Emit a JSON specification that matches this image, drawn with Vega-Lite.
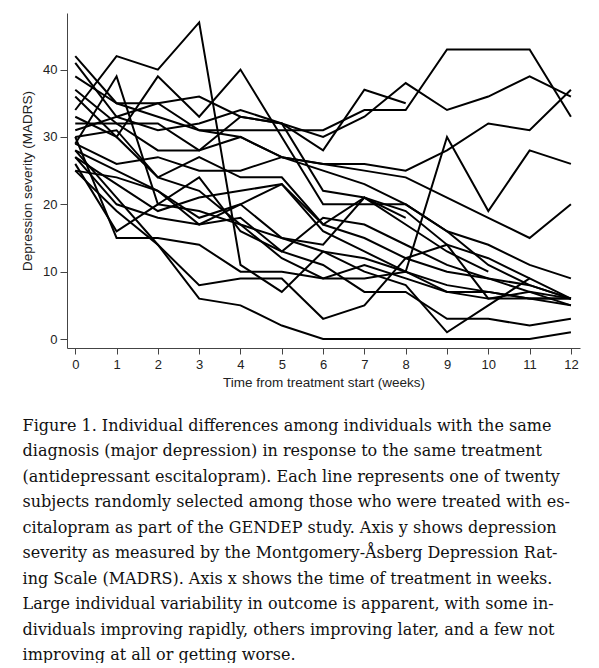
{
  "$schema": "https://vega.github.io/schema/vega-lite/v6.json",
  "width": 513,
  "height": 335,
  "padding": {"left": 20, "top": 13, "right": 10, "bottom": 0},
  "background": "white",
  "config": {
    "view": {"stroke": null},
    "axis": {
      "grid": false,
      "domainColor": "#444",
      "domainWidth": 1,
      "tickColor": "#444",
      "tickWidth": 1,
      "labelFont": "Liberation Sans",
      "labelFontSize": 13,
      "labelColor": "#222",
      "titleFont": "Liberation Sans",
      "titleFontSize": 13.5,
      "titleFontWeight": "normal",
      "titleColor": "#222"
    }
  },
  "title": {
    "text": [
      "Figure 1. Individual differences among individuals with the same",
      "diagnosis (major depression) in response to the same treatment",
      "(antidepressant escitalopram). Each line represents one of twenty",
      "subjects randomly selected among those who were treated with es-",
      "citalopram as part of the GENDEP study. Axis y shows depression",
      "severity as measured by the Montgomery-Åsberg Depression Rat-",
      "ing Scale (MADRS). Axis x shows the time of treatment in weeks.",
      "Large individual variability in outcome is apparent, with some in-",
      "dividuals improving rapidly, others improving later, and a few not",
      "improving at all or getting worse."
    ],
    "orient": "bottom",
    "anchor": "start",
    "frame": "bounds",
    "align": "left",
    "font": "DejaVu Serif",
    "fontSize": 16,
    "fontWeight": "normal",
    "color": "#111",
    "lineHeight": 25.5,
    "offset": 29,
    "dx": 2
  },
  "data": {
    "values": [
      {"id":1,"week":0,"madrs":28},{"id":1,"week":1,"madrs":21},{"id":1,"week":2,"madrs":14},{"id":1,"week":3,"madrs":6},{"id":1,"week":4,"madrs":5},{"id":1,"week":5,"madrs":2},{"id":1,"week":6,"madrs":0},{"id":1,"week":7,"madrs":0},{"id":1,"week":8,"madrs":0},{"id":1,"week":9,"madrs":0},{"id":1,"week":10,"madrs":0},{"id":1,"week":11,"madrs":0},{"id":1,"week":12,"madrs":1},
      {"id":2,"week":0,"madrs":34},{"id":2,"week":1,"madrs":42},{"id":2,"week":2,"madrs":40},{"id":2,"week":3,"madrs":47},{"id":2,"week":4,"madrs":11},{"id":2,"week":5,"madrs":7},{"id":2,"week":6,"madrs":13},{"id":2,"week":7,"madrs":12},{"id":2,"week":8,"madrs":10},{"id":2,"week":9,"madrs":7},{"id":2,"week":10,"madrs":6},{"id":2,"week":11,"madrs":6},{"id":2,"week":12,"madrs":6},
      {"id":3,"week":0,"madrs":36},{"id":3,"week":1,"madrs":30},{"id":3,"week":2,"madrs":39},{"id":3,"week":3,"madrs":33},{"id":3,"week":4,"madrs":40},{"id":3,"week":5,"madrs":30},{"id":3,"week":6,"madrs":20},{"id":3,"week":7,"madrs":20},{"id":3,"week":8,"madrs":20},{"id":3,"week":9,"madrs":16},{"id":3,"week":10,"madrs":11},{"id":3,"week":11,"madrs":8},{"id":3,"week":12,"madrs":6},
      {"id":4,"week":0,"madrs":39},{"id":4,"week":1,"madrs":35},{"id":4,"week":2,"madrs":35},{"id":4,"week":3,"madrs":31},{"id":4,"week":4,"madrs":31},{"id":4,"week":5,"madrs":31},{"id":4,"week":6,"madrs":31},{"id":4,"week":7,"madrs":34},{"id":4,"week":8,"madrs":34},{"id":4,"week":9,"madrs":43},{"id":4,"week":10,"madrs":43},{"id":4,"week":11,"madrs":43},{"id":4,"week":12,"madrs":33},
      {"id":5,"week":0,"madrs":41},{"id":5,"week":1,"madrs":33},{"id":5,"week":2,"madrs":35},{"id":5,"week":3,"madrs":36},{"id":5,"week":4,"madrs":33},{"id":5,"week":5,"madrs":32},{"id":5,"week":6,"madrs":30},{"id":5,"week":7,"madrs":33},{"id":5,"week":8,"madrs":38},{"id":5,"week":9,"madrs":34},{"id":5,"week":10,"madrs":36},{"id":5,"week":11,"madrs":39},{"id":5,"week":12,"madrs":36},
      {"id":6,"week":0,"madrs":31},{"id":6,"week":1,"madrs":33},{"id":6,"week":2,"madrs":31},{"id":6,"week":3,"madrs":32},{"id":6,"week":4,"madrs":34},{"id":6,"week":5,"madrs":32},{"id":6,"week":6,"madrs":28},{"id":6,"week":7,"madrs":37},{"id":6,"week":8,"madrs":35},
      {"id":7,"week":0,"madrs":29},{"id":7,"week":1,"madrs":26},{"id":7,"week":2,"madrs":27},{"id":7,"week":3,"madrs":25},{"id":7,"week":4,"madrs":25},{"id":7,"week":5,"madrs":27},{"id":7,"week":6,"madrs":26},{"id":7,"week":7,"madrs":26},{"id":7,"week":8,"madrs":25},{"id":7,"week":9,"madrs":28},{"id":7,"week":10,"madrs":32},{"id":7,"week":11,"madrs":31},{"id":7,"week":12,"madrs":37},
      {"id":8,"week":0,"madrs":32},{"id":8,"week":1,"madrs":32},{"id":8,"week":2,"madrs":32},{"id":8,"week":3,"madrs":28},{"id":8,"week":4,"madrs":30},{"id":8,"week":5,"madrs":27},{"id":8,"week":6,"madrs":26},{"id":8,"week":7,"madrs":25},{"id":8,"week":8,"madrs":24},{"id":8,"week":9,"madrs":21},{"id":8,"week":10,"madrs":18},{"id":8,"week":11,"madrs":15},{"id":8,"week":12,"madrs":20},
      {"id":9,"week":0,"madrs":27},{"id":9,"week":1,"madrs":23},{"id":9,"week":2,"madrs":19},{"id":9,"week":3,"madrs":21},{"id":9,"week":4,"madrs":22},{"id":9,"week":5,"madrs":23},{"id":9,"week":6,"madrs":16},{"id":9,"week":7,"madrs":13},{"id":9,"week":8,"madrs":10},{"id":9,"week":9,"madrs":30},{"id":9,"week":10,"madrs":19},{"id":9,"week":11,"madrs":28},{"id":9,"week":12,"madrs":26},
      {"id":10,"week":0,"madrs":42},{"id":10,"week":1,"madrs":35},{"id":10,"week":2,"madrs":33},{"id":10,"week":3,"madrs":31},{"id":10,"week":4,"madrs":30},{"id":10,"week":5,"madrs":27},{"id":10,"week":6,"madrs":25},{"id":10,"week":7,"madrs":23},{"id":10,"week":8,"madrs":20},{"id":10,"week":9,"madrs":16},{"id":10,"week":10,"madrs":14},{"id":10,"week":11,"madrs":11},{"id":10,"week":12,"madrs":9},
      {"id":11,"week":0,"madrs":30},{"id":11,"week":1,"madrs":15},{"id":11,"week":2,"madrs":15},{"id":11,"week":3,"madrs":14},{"id":11,"week":4,"madrs":10},{"id":11,"week":5,"madrs":10},{"id":11,"week":6,"madrs":9},{"id":11,"week":7,"madrs":9},{"id":11,"week":8,"madrs":10},{"id":11,"week":9,"madrs":8},{"id":11,"week":10,"madrs":7},{"id":11,"week":11,"madrs":6},{"id":11,"week":12,"madrs":5},
      {"id":12,"week":0,"madrs":26},{"id":12,"week":1,"madrs":16},{"id":12,"week":2,"madrs":20},{"id":12,"week":3,"madrs":19},{"id":12,"week":4,"madrs":17},{"id":12,"week":5,"madrs":12},{"id":12,"week":6,"madrs":9},{"id":12,"week":7,"madrs":11},{"id":12,"week":8,"madrs":9},{"id":12,"week":9,"madrs":7},{"id":12,"week":10,"madrs":7},{"id":12,"week":11,"madrs":6},{"id":12,"week":12,"madrs":6},
      {"id":13,"week":0,"madrs":27},{"id":13,"week":1,"madrs":20},{"id":13,"week":2,"madrs":18},{"id":13,"week":3,"madrs":17},{"id":13,"week":4,"madrs":18},{"id":13,"week":5,"madrs":13},{"id":13,"week":6,"madrs":11},{"id":13,"week":7,"madrs":7},{"id":13,"week":8,"madrs":7},{"id":13,"week":9,"madrs":3},{"id":13,"week":10,"madrs":3},{"id":13,"week":11,"madrs":2},{"id":13,"week":12,"madrs":3},
      {"id":14,"week":0,"madrs":25},{"id":14,"week":1,"madrs":19},{"id":14,"week":2,"madrs":14},{"id":14,"week":3,"madrs":8},{"id":14,"week":4,"madrs":9},{"id":14,"week":5,"madrs":9},{"id":14,"week":6,"madrs":3},{"id":14,"week":7,"madrs":5},{"id":14,"week":8,"madrs":12},{"id":14,"week":9,"madrs":14},{"id":14,"week":10,"madrs":6},{"id":14,"week":11,"madrs":7},{"id":14,"week":12,"madrs":6},
      {"id":15,"week":0,"madrs":33},{"id":15,"week":1,"madrs":30},{"id":15,"week":2,"madrs":24},{"id":15,"week":3,"madrs":22},{"id":15,"week":4,"madrs":17},{"id":15,"week":5,"madrs":15},{"id":15,"week":6,"madrs":13},{"id":15,"week":7,"madrs":10},{"id":15,"week":8,"madrs":8},{"id":15,"week":9,"madrs":1},{"id":15,"week":10,"madrs":5},{"id":15,"week":11,"madrs":9},{"id":15,"week":12,"madrs":6},
      {"id":16,"week":0,"madrs":28},{"id":16,"week":1,"madrs":25},{"id":16,"week":2,"madrs":22},{"id":16,"week":3,"madrs":18},{"id":16,"week":4,"madrs":20},{"id":16,"week":5,"madrs":23},{"id":16,"week":6,"madrs":17},{"id":16,"week":7,"madrs":15},{"id":16,"week":8,"madrs":12},{"id":16,"week":9,"madrs":10},{"id":16,"week":10,"madrs":9},{"id":16,"week":11,"madrs":7},{"id":16,"week":12,"madrs":5},
      {"id":17,"week":0,"madrs":29},{"id":17,"week":1,"madrs":39},{"id":17,"week":2,"madrs":20},{"id":17,"week":3,"madrs":24},{"id":17,"week":4,"madrs":16},{"id":17,"week":5,"madrs":13},{"id":17,"week":6,"madrs":18},{"id":17,"week":7,"madrs":17},{"id":17,"week":8,"madrs":14},{"id":17,"week":9,"madrs":11},{"id":17,"week":10,"madrs":9},{"id":17,"week":11,"madrs":8},{"id":17,"week":12,"madrs":6},
      {"id":18,"week":0,"madrs":25},{"id":18,"week":1,"madrs":24},{"id":18,"week":2,"madrs":22},{"id":18,"week":3,"madrs":17},{"id":18,"week":4,"madrs":20},{"id":18,"week":5,"madrs":15},{"id":18,"week":6,"madrs":14},{"id":18,"week":7,"madrs":21},{"id":18,"week":8,"madrs":17},{"id":18,"week":9,"madrs":13},{"id":18,"week":10,"madrs":10},
      {"id":19,"week":0,"madrs":30},{"id":19,"week":1,"madrs":31},{"id":19,"week":2,"madrs":24},{"id":19,"week":3,"madrs":27},{"id":19,"week":4,"madrs":24},{"id":19,"week":5,"madrs":24},{"id":19,"week":6,"madrs":17},{"id":19,"week":7,"madrs":21},{"id":19,"week":8,"madrs":19},{"id":19,"week":9,"madrs":14},{"id":19,"week":10,"madrs":12},{"id":19,"week":11,"madrs":9},
      {"id":20,"week":0,"madrs":37},{"id":20,"week":1,"madrs":32},{"id":20,"week":2,"madrs":28},{"id":20,"week":3,"madrs":28},{"id":20,"week":4,"madrs":33},{"id":20,"week":5,"madrs":32},{"id":20,"week":6,"madrs":22},{"id":20,"week":7,"madrs":21},{"id":20,"week":8,"madrs":18}
    ]
  },
  "mark": {"type": "line", "color": "#000", "strokeWidth": 2},
  "encoding": {
    "x": {
      "field": "week",
      "type": "quantitative",
      "scale": {"domain": [-0.2, 12.22], "nice": false, "zero": false},
      "axis": {
        "title": "Time from treatment start (weeks)",
        "values": [0,1,2,3,4,5,6,7,8,9,10,11,12],
        "tickSize": 6,
        "labelPadding": 4,
        "titlePadding": 4
      }
    },
    "y": {
      "field": "madrs",
      "type": "quantitative",
      "scale": {"domain": [-1.33, 48.4], "nice": false, "zero": false},
      "axis": {
        "title": "Depression severity (MADRS)",
        "values": [0,10,20,30,40],
        "tickSize": 7,
        "labelPadding": 3,
        "titlePadding": 8
      }
    },
    "detail": {"field": "id", "type": "nominal"}
  }
}
